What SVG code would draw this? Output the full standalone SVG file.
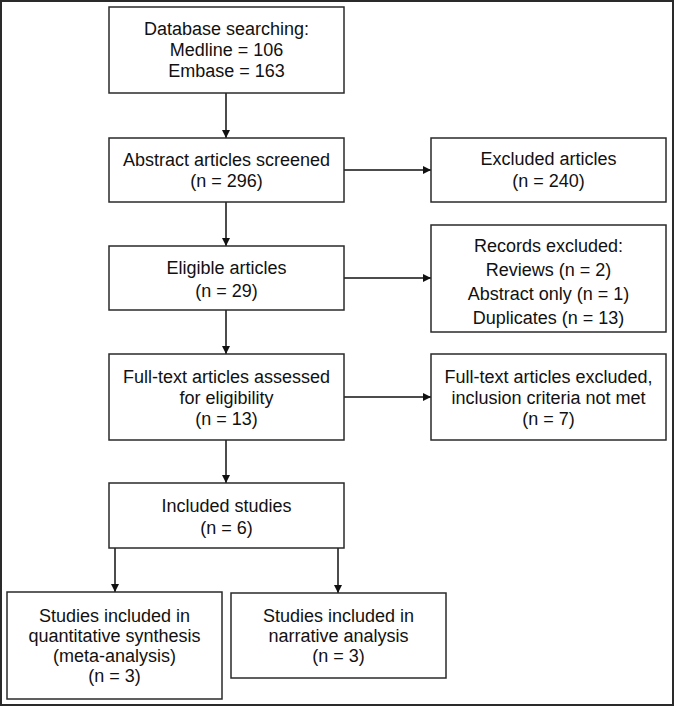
<svg xmlns="http://www.w3.org/2000/svg" width="675" height="707" viewBox="0 0 675 707">
<style>
.box{fill:#fff;stroke:#2a2a2a;stroke-width:1.5}
.t{font-family:"Liberation Sans",Arial,sans-serif;font-size:18px;fill:#111;text-anchor:middle}
.c{stroke:#111;stroke-width:1.5;fill:none}
</style>
<defs>
<marker id="ah" viewBox="0 0 10 10" refX="10" refY="5" markerWidth="8" markerHeight="8" markerUnits="userSpaceOnUse" orient="auto">
<path d="M0,0 L10,5 L0,10 z" fill="#111"/>
</marker>
</defs>
<rect x="0" y="0" width="675" height="707" fill="#fff"/>
<rect x="1" y="1" width="672" height="704" fill="none" stroke="#2a2a2a" stroke-width="2"/>
<g id="connectors">
<line class="c" x1="226" y1="93" x2="226" y2="138" marker-end="url(#ah)"/>
<line class="c" x1="226" y1="202" x2="226" y2="246" marker-end="url(#ah)"/>
<line class="c" x1="226" y1="310" x2="226" y2="354" marker-end="url(#ah)"/>
<line class="c" x1="226" y1="440" x2="226" y2="483" marker-end="url(#ah)"/>
<line class="c" x1="344" y1="170" x2="431" y2="170" marker-end="url(#ah)"/>
<line class="c" x1="344" y1="278" x2="431" y2="278" marker-end="url(#ah)"/>
<line class="c" x1="344" y1="397" x2="431" y2="397" marker-end="url(#ah)"/>
<line class="c" x1="115" y1="548" x2="115" y2="592" marker-end="url(#ah)"/>
<line class="c" x1="338" y1="548" x2="338" y2="593" marker-end="url(#ah)"/>
</g>
<g id="n-database">
<rect class="box" x="109" y="7" width="235" height="86"/>
<text class="t" x="226.5" y="35">Database searching:</text>
<text class="t" x="226.5" y="56">Medline = 106</text>
<text class="t" x="226.5" y="77">Embase = 163</text>
</g>
<g id="n-abstract">
<rect class="box" x="109" y="138" width="235" height="64"/>
<text class="t" x="226.5" y="166">Abstract articles screened</text>
<text class="t" x="226.5" y="187">(n = 296)</text>
</g>
<g id="n-excluded">
<rect class="box" x="431" y="138" width="235" height="64"/>
<text class="t" x="548.5" y="165">Excluded articles</text>
<text class="t" x="548.5" y="187">(n = 240)</text>
</g>
<g id="n-eligible">
<rect class="box" x="109" y="246" width="235" height="64"/>
<text class="t" x="226.5" y="274">Eligible articles</text>
<text class="t" x="226.5" y="297">(n = 29)</text>
</g>
<g id="n-records">
<rect class="box" x="431" y="225" width="235" height="107"/>
<text class="t" x="548.5" y="252">Records excluded:</text>
<text class="t" x="548.5" y="276">Reviews (n = 2)</text>
<text class="t" x="548.5" y="300">Abstract only (n = 1)</text>
<text class="t" x="548.5" y="324">Duplicates (n = 13)</text>
</g>
<g id="n-fulltext">
<rect class="box" x="109" y="354" width="235" height="86"/>
<text class="t" x="226.5" y="383">Full-text articles assessed</text>
<text class="t" x="226.5" y="404">for eligibility</text>
<text class="t" x="226.5" y="425">(n = 13)</text>
</g>
<g id="n-fulltext-excluded">
<rect class="box" x="431" y="354" width="235" height="86"/>
<text class="t" x="548.5" y="383">Full-text articles excluded,</text>
<text class="t" x="548.5" y="404">inclusion criteria not met</text>
<text class="t" x="548.5" y="425">(n = 7)</text>
</g>
<g id="n-included">
<rect class="box" x="109" y="483" width="235" height="65"/>
<text class="t" x="226.5" y="512">Included studies</text>
<text class="t" x="226.5" y="534">(n = 6)</text>
</g>
<g id="n-quantitative">
<rect class="box" x="7" y="592" width="215" height="107"/>
<text class="t" x="114.5" y="622">Studies included in</text>
<text class="t" x="114.5" y="642">quantitative synthesis</text>
<text class="t" x="114.5" y="662">(meta-analysis)</text>
<text class="t" x="114.5" y="682">(n = 3)</text>
</g>
<g id="n-narrative">
<rect class="box" x="231" y="593" width="215" height="85"/>
<text class="t" x="338.5" y="622">Studies included in</text>
<text class="t" x="338.5" y="642">narrative analysis</text>
<text class="t" x="338.5" y="662">(n = 3)</text>
</g>
</svg>
